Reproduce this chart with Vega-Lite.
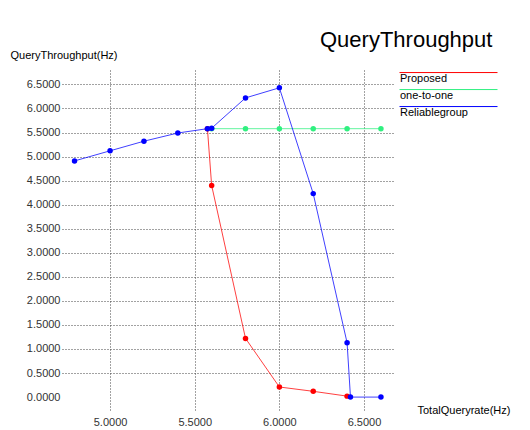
{
  "$schema": "https://vega.github.io/schema/vega-lite/v6.json",
  "width": 333,
  "height": 342,
  "autosize": {"type": "none"},
  "padding": {"left": 62, "top": 70, "right": 135, "bottom": 18},
  "background": "white",
  "title": {
    "text": "QueryThroughput",
    "anchor": "start",
    "frame": "group",
    "dx": 258,
    "offset": -3,
    "fontSize": 22,
    "fontWeight": "normal",
    "font": "Liberation Sans",
    "color": "black"
  },
  "data": {
    "values": [
      {"series": "Proposed", "o": 1, "x": 5.575, "y": 5.58},
      {"series": "Proposed", "o": 2, "x": 5.6, "y": 4.4},
      {"series": "Proposed", "o": 3, "x": 5.8, "y": 1.22},
      {"series": "Proposed", "o": 4, "x": 6.0, "y": 0.21},
      {"series": "Proposed", "o": 5, "x": 6.2, "y": 0.12},
      {"series": "Proposed", "o": 6, "x": 6.4, "y": 0.02},
      {"series": "one-to-one", "o": 1, "x": 5.6, "y": 5.58},
      {"series": "one-to-one", "o": 2, "x": 5.8, "y": 5.58},
      {"series": "one-to-one", "o": 3, "x": 6.0, "y": 5.58},
      {"series": "one-to-one", "o": 4, "x": 6.2, "y": 5.58},
      {"series": "one-to-one", "o": 5, "x": 6.4, "y": 5.58},
      {"series": "one-to-one", "o": 6, "x": 6.6, "y": 5.58},
      {"series": "Reliablegroup", "o": 1, "x": 4.79, "y": 4.91},
      {"series": "Reliablegroup", "o": 2, "x": 5.0, "y": 5.12},
      {"series": "Reliablegroup", "o": 3, "x": 5.2, "y": 5.32},
      {"series": "Reliablegroup", "o": 4, "x": 5.4, "y": 5.49},
      {"series": "Reliablegroup", "o": 5, "x": 5.575, "y": 5.58},
      {"series": "Reliablegroup", "o": 6, "x": 5.6, "y": 5.59},
      {"series": "Reliablegroup", "o": 7, "x": 5.8, "y": 6.22},
      {"series": "Reliablegroup", "o": 8, "x": 6.0, "y": 6.43},
      {"series": "Reliablegroup", "o": 9, "x": 6.2, "y": 4.23},
      {"series": "Reliablegroup", "o": 10, "x": 6.4, "y": 1.13},
      {"series": "Reliablegroup", "o": 11, "x": 6.42, "y": 0.0},
      {"series": "Reliablegroup", "o": 12, "x": 6.6, "y": 0.0}
    ]
  },
  "encoding": {
    "x": {
      "field": "x",
      "type": "quantitative",
      "scale": {"domain": [4.716, 6.683], "nice": false, "zero": false},
      "axis": {
        "values": [5, 5.5, 6, 6.5],
        "format": ".4f",
        "domain": false,
        "ticks": false,
        "grid": true,
        "gridDash": [1, 2],
        "gridColor": "#444",
        "gridOpacity": 1,
        "labelPadding": 4,
        "title": "TotalQueryrate(Hz)",
        "titleAngle": 0,
        "titleX": 355,
        "titleY": -2,
        "titleAlign": "left",
        "titleBaseline": "middle"
      }
    },
    "y": {
      "field": "y",
      "type": "quantitative",
      "scale": {"domain": [-0.31, 6.8], "nice": false, "zero": false},
      "axis": {
        "values": [0, 0.5, 1, 1.5, 2, 2.5, 3, 3.5, 4, 4.5, 5, 5.5, 6, 6.5],
        "format": ".4f",
        "domain": false,
        "ticks": false,
        "grid": true,
        "gridDash": [1, 2],
        "gridColor": "#444",
        "gridOpacity": {"condition": {"test": "datum.value == 0", "value": 0}, "value": 1},
        "labelPadding": 2,
        "title": "QueryThroughput(Hz)",
        "titleAngle": 0,
        "titleX": -52,
        "titleY": -15,
        "titleAlign": "left",
        "titleBaseline": "middle"
      }
    },
    "color": {
      "field": "series",
      "type": "nominal",
      "scale": {
        "domain": ["Proposed", "one-to-one", "Reliablegroup"],
        "range": ["#ff0000", "#30f080", "#0000ff"]
      },
      "legend": {
        "title": null,
        "orient": "none",
        "legendX": 337,
        "legendY": 1,
        "symbolType": "M-1,-0.85H13",
        "symbolSize": 196,
        "symbolStrokeWidth": 1,
        "symbolOpacity": 1,
        "labelOffset": -14,
        "rowPadding": 3,
        "labelFontSize": 11,
        "labelColor": "black",
        "labelFont": "Liberation Sans",
        "encode": {
          "symbols": {
            "update": {
              "stroke": {"scale": "color", "field": "value"},
              "strokeOpacity": {"value": 1}
            }
          }
        }
      }
    },
    "order": {"field": "o", "type": "quantitative"}
  },
  "layer": [
    {"mark": {"type": "line", "strokeWidth": 1, "opacity": 0.75}},
    {"mark": {"type": "point", "filled": true, "size": 30, "opacity": 1}}
  ],
  "config": {
    "font": "Liberation Sans",
    "axis": {
      "labelFont": "Liberation Sans",
      "labelFontSize": 11,
      "labelColor": "#333",
      "titleFont": "Liberation Sans",
      "titleFontSize": 11,
      "titleFontWeight": "normal",
      "titleColor": "black"
    },
    "view": {"stroke": null}
  }
}
